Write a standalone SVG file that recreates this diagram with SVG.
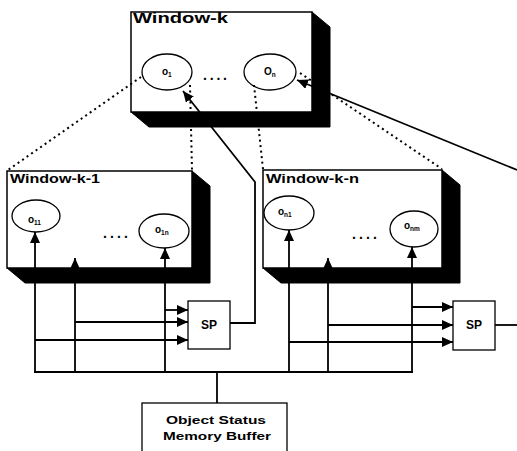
<svg xmlns="http://www.w3.org/2000/svg" width="517" height="451" viewBox="0 0 517 451">
<defs>
<marker id="ah" markerUnits="userSpaceOnUse" markerWidth="11" markerHeight="10" refX="11" refY="5" orient="auto">
<path d="M0,0 L11,5 L0,10 Z" fill="#000"/>
</marker>
<style>
.face{fill:#fff;stroke:#000;stroke-width:1.5}
.ext{fill:#000;stroke:#000;stroke-width:1}
.ell{fill:#fff;stroke:#000;stroke-width:1.3}
.title{font-family:"Liberation Sans",Arial,sans-serif;font-weight:bold;fill:#000}
.lbl{font-family:"Liberation Sans",Arial,sans-serif;font-weight:bold;font-size:10px;fill:#000}
.sub{font-size:6.5px}
.dots{font-family:"Liberation Sans",Arial,sans-serif;font-weight:bold;font-size:14px;fill:#000}
.box{fill:#fff;stroke:#000;stroke-width:1.3}
.btxt{font-family:"Liberation Sans",Arial,sans-serif;font-weight:bold;fill:#000}
.ln{fill:none;stroke:#000;stroke-width:1.8}
.dot{fill:none;stroke:#000;stroke-width:2;stroke-dasharray:2 3.5}
</style>
</defs>

<g id="window-k">
<polygon class="ext" points="312,12 330,27 330,127 149,127 131,112 312,112"/>
<rect class="face" x="131" y="12" width="181" height="100"/>
<text class="title" x="133" y="23" font-size="14" textLength="95" lengthAdjust="spacingAndGlyphs">Window-k</text>
<g id="o1">
<ellipse class="ell" cx="167" cy="72" rx="25" ry="18"/>
<text class="lbl" x="162" y="75">o<tspan class="sub" dy="2">1</tspan></text>
</g>
<text class="dots" x="203" y="80" textLength="24" lengthAdjust="spacing">....</text>
<g id="on">
<ellipse class="ell" cx="270" cy="72" rx="26" ry="18"/>
<text class="lbl" x="264" y="75">O<tspan class="sub" dy="2">n</tspan></text>
</g>
</g>

<g id="window-k-1">
<polygon class="ext" points="192,171 210,186 210,283 25,283 7,268 192,268"/>
<rect class="face" x="7" y="171" width="185" height="97"/>
<text class="title" x="10" y="183" font-size="12" textLength="90" lengthAdjust="spacingAndGlyphs">Window-k-1</text>
<g id="o11">
<ellipse class="ell" cx="36" cy="216" rx="24" ry="16"/>
<text class="lbl" x="28" y="223">o<tspan class="sub" dy="2">11</tspan></text>
</g>
<text class="dots" x="103" y="238" textLength="25" lengthAdjust="spacing">....</text>
<g id="o1n">
<ellipse class="ell" cx="164" cy="231" rx="25" ry="17"/>
<text class="lbl" x="155" y="233">o<tspan class="sub" dy="2">1n</tspan></text>
</g>
</g>

<g id="window-k-n">
<polygon class="ext" points="442,170 460,185 460,283 281,283 263,268 442,268"/>
<rect class="face" x="263" y="170" width="179" height="98"/>
<text class="title" x="266" y="183" font-size="12" textLength="93" lengthAdjust="spacingAndGlyphs">Window-k-n</text>
<g id="on1">
<ellipse class="ell" cx="289" cy="213" rx="25" ry="17"/>
<text class="lbl" x="278" y="215">o<tspan class="sub" dy="2">n1</tspan></text>
</g>
<text class="dots" x="352" y="239" textLength="25" lengthAdjust="spacing">....</text>
<g id="onm">
<ellipse class="ell" cx="414" cy="229" rx="24" ry="18"/>
<text class="lbl" x="404" y="229">o<tspan class="sub" dy="2">nm</tspan></text>
</g>
</g>

<g id="sp-1">
<rect class="box" x="188" y="301" width="42" height="48"/>
<text class="btxt" x="209" y="329" font-size="12" text-anchor="middle">SP</text>
</g>
<g id="sp-n">
<rect class="box" x="453" y="301" width="42" height="49"/>
<text class="btxt" x="474" y="329" font-size="12" text-anchor="middle">SP</text>
</g>
<g id="buffer">
<rect class="box" x="142" y="403" width="145" height="60"/>
<text class="btxt" x="216" y="424" font-size="10" text-anchor="middle" textLength="100" lengthAdjust="spacingAndGlyphs">Object Status</text>
<text class="btxt" x="217" y="440" font-size="10" text-anchor="middle" textLength="108" lengthAdjust="spacingAndGlyphs">Memory Buffer</text>
</g>

<g id="connectors">
<line class="dot" x1="141" y1="77" x2="8" y2="170"/>
<line class="dot" x1="190" y1="85" x2="192" y2="170"/>
<line class="dot" x1="254" y1="85" x2="263" y2="169"/>
<line class="dot" x1="300" y1="73" x2="442" y2="169"/>
<line class="ln" x1="517" y1="170" x2="297" y2="80" marker-end="url(#ah)"/>
<polyline class="ln" points="230,323 255,323 255,182 183,91" marker-end="url(#ah)"/>
<line class="ln" x1="35" y1="372" x2="35" y2="232" marker-end="url(#ah)"/>
<line class="ln" x1="75" y1="372" x2="75" y2="258" marker-end="url(#ah)"/>
<line class="ln" x1="165" y1="372" x2="165" y2="248" marker-end="url(#ah)"/>
<line class="ln" x1="289" y1="372" x2="289" y2="230" marker-end="url(#ah)"/>
<line class="ln" x1="328" y1="372" x2="328" y2="258" marker-end="url(#ah)"/>
<line class="ln" x1="412" y1="372" x2="412" y2="247" marker-end="url(#ah)"/>
<line class="ln" x1="34" y1="372" x2="413" y2="372"/>
<line class="ln" x1="217" y1="372" x2="217" y2="403"/>
<line class="ln" x1="165" y1="310" x2="188" y2="310" marker-end="url(#ah)"/>
<line class="ln" x1="75" y1="322" x2="188" y2="322" marker-end="url(#ah)"/>
<line class="ln" x1="35" y1="340" x2="188" y2="340" marker-end="url(#ah)"/>
<line class="ln" x1="412" y1="307" x2="453" y2="307" marker-end="url(#ah)"/>
<line class="ln" x1="328" y1="325" x2="453" y2="325" marker-end="url(#ah)"/>
<line class="ln" x1="289" y1="342" x2="453" y2="342" marker-end="url(#ah)"/>
<line class="ln" x1="495" y1="325" x2="517" y2="325"/>
</g>
</svg>
